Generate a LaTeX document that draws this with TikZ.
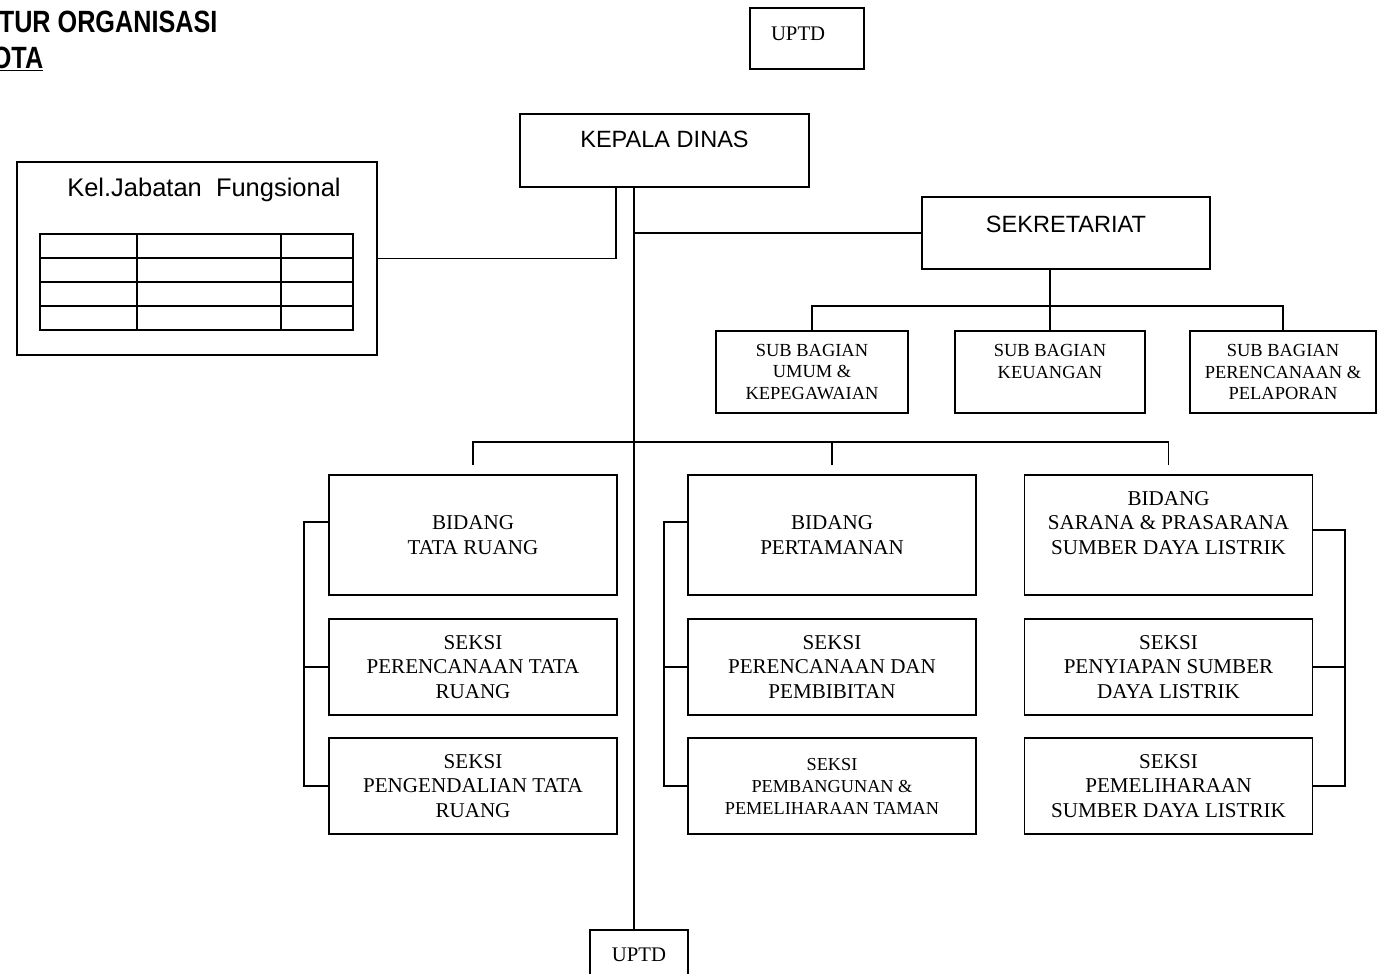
\documentclass[tikz,border=0pt]{standalone}
\usepackage{fontspec}
\setmainfont{Liberation Serif}
\newfontfamily\arialf{Liberation Sans}
\newfontfamily\arialn[FakeStretch=0.82]{Liberation Sans}
\usetikzlibrary{calc}

\tikzset{
  box/.style={draw,align=center,inner sep=0pt},
  bidang/.style={box,minimum width=5.76cm,minimum height=2.4cm,font=\fontsize{12}{14}\selectfont},
  seksi/.style={box,minimum width=5.76cm,minimum height=1.92cm,font=\fontsize{12}{14}\selectfont},
  subbag/.style={box,minimum height=1.64cm,font=\fontsize{10.5}{12.2}\selectfont},
  head/.style={box,font=\arialf\fontsize{13.4}{16}\selectfont},
  judul/.style={anchor=base west,inner sep=0pt,font=\arialn\bfseries\fontsize{17.5}{20}\selectfont}
}

\begin{document}
\begin{tikzpicture}[x=0.02cm,y=-0.02cm,line width=1pt]
  \useasboundingbox (0,0) rectangle (1377,974);
  \node[judul] (ttl) at (-2,32) {TUR ORGANISASI};
  \node[judul] (ttl2) at (-9,68) {\underline{OTA}};

  \node[box,minimum width=2.28cm,minimum height=1.22cm,text width=1.44cm,inner xsep=0.42cm,align=left,text depth=6pt,font=\fontsize{11.8}{14}\selectfont] (uptd1) at (807,38.5) {UPTD};
  \node[head,minimum width=5.78cm,minimum height=1.46cm,text depth=12.5pt] (kd) at (664.5,150.5) {KEPALA DINAS};
  \node[head,minimum width=5.76cm,minimum height=1.44cm,text depth=10pt] (sek) at (1066,233) {SEKRETARIAT};

  % kelompok jabatan fungsional
  \node[box,minimum width=7.2cm,minimum height=3.86cm] (kel) at (197,258.5) {};
  \node[font=\arialf\fontsize{14.5}{17}\selectfont] (kelt) at (204,190) {Kel.Jabatan\ \ Fungsional};
  \draw (40,234) rectangle (353,330);
  \foreach \y in {258,282,306} \draw (40,\y) -- (353,\y);
  \foreach \x in {137,281} \draw (\x,234) -- (\x,330);

  \node[subbag,minimum width=3.84cm] (sb1) at (812,372) {SUB BAGIAN\\UMUM \&\\KEPEGAWAIAN};
  \node[subbag,minimum width=3.8cm] (sb2) at (1050,372) {SUB BAGIAN\\KEUANGAN\\~};
  \node[subbag,minimum width=3.72cm] (sb3) at (1283,372) {SUB BAGIAN\\PERENCANAAN \&\\PELAPORAN};

  \node[bidang] (tr) at (473,535) {BIDANG\\TATA RUANG};
  \node[seksi] (tr2) at (473,667) {SEKSI\\PERENCANAAN TATA\\RUANG};
  \node[seksi] (tr3) at (473,786) {SEKSI\\PENGENDALIAN TATA\\RUANG};

  \node[bidang] (pt) at (832,535) {BIDANG\\PERTAMANAN};
  \node[seksi] (pt2) at (832,667) {SEKSI\\PERENCANAAN DAN\\PEMBIBITAN};
  \node[seksi,font=\fontsize{10.4}{12.5}\selectfont] (pt3) at (832,786) {SEKSI\\PEMBANGUNAN \&\\PEMELIHARAAN TAMAN};

  \node[bidang] (sl) at (1168.5,535) {BIDANG\\SARANA \& PRASARANA\\SUMBER DAYA LISTRIK\\~};
  \node[seksi] (sl2) at (1168.5,667) {SEKSI\\PENYIAPAN SUMBER\\DAYA LISTRIK};
  \node[seksi] (sl3) at (1168.5,786) {SEKSI\\PEMELIHARAAN\\SUMBER DAYA LISTRIK};

  \node[box,minimum width=1.96cm,minimum height=1cm,font=\fontsize{11.8}{14}\selectfont] (uptd2) at (639,955) {UPTD};

  % garis komando
  \draw (kel.east) -| ($(kd.south)+(-48.5,0)$);
  \coordinate (tk) at ($(kd.south)+(-30.5,0)$);
  \draw (tk) -- (tk |- uptd2.north);
  \draw (tk |- sek.west) -- (sek.west);
  \draw (sb2.north) -- (sb2.north |- sek.south);
  \draw (sb1.north) -- ++(0,-24) -| (sb3.north);
  \draw ($(tr.north)+(0,-9)$) -- ++(0,-23) -| ($(sl.north)+(0,-9)$);
  \draw ($(pt.north)+(0,-9)$) -- ++(0,-23);

  \draw ($(tr.west)+(0,-13)$) -- ++(-24,0) |- (tr3.west);
  \draw (tr2.west) -- ++(-24,0);
  \draw ($(pt.west)+(0,-13)$) -- ++(-23,0) |- (pt3.west);
  \draw (pt2.west) -- ++(-23,0);
  \draw ($(sl.east)+(0,-5)$) -- ++(32,0) |- (sl3.east);
  \draw (sl2.east) -- ++(32,0);
\end{tikzpicture}
\end{document}
